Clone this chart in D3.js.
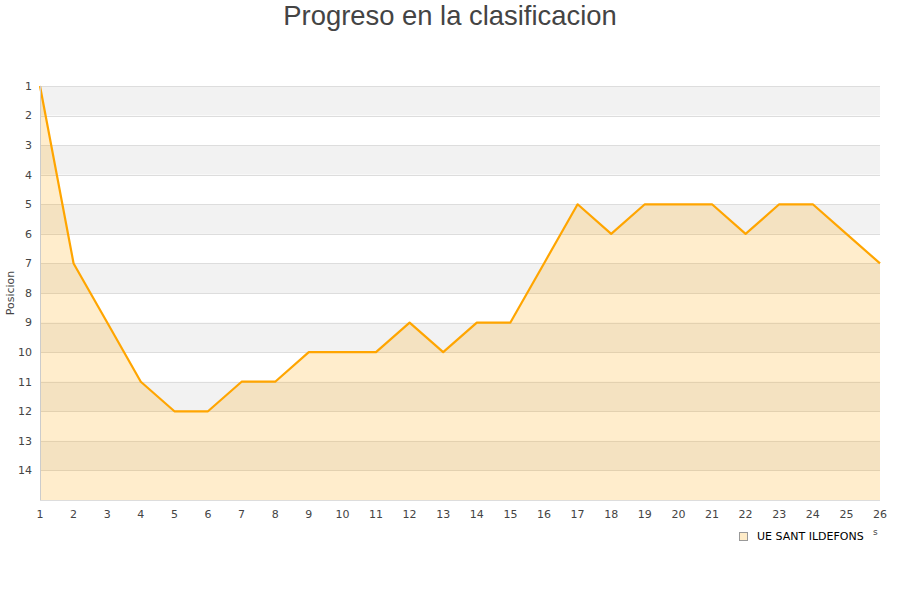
<!DOCTYPE html>
<html><head><meta charset="utf-8">
<script src="https://cdn.jsdelivr.net/npm/d3@7"></script>
<style>body{margin:0;background:#fff}svg{display:block}</style>
</head><body>
<svg id="c" width="900" height="600"></svg>
<script>
const rounds = d3.range(1, 27);
const positions = [1,7,9,11,12,12,11,11,10,10,10,9,10,9,9,7,5,6,5,5,5,6,5,5,6,7];
const yTicks = d3.range(1, 15);
const seriesName = "UE SANT ILDEFONS";
const title = "Progreso en la clasificacion";
const yTitle = "Posicion";

const svg = d3.select("#c");
const m = {l:40, r:880, t:86, b:500};
const x = d3.scaleLinear().domain([1,26]).range([m.l, m.r]);
const y = d3.scaleLinear().domain([1,15]).range([m.t, m.b]);
const font = "DejaVu Sans, sans-serif";

// bands
svg.append("g").selectAll("rect").data(d3.range(1,15)).join("rect")
  .attr("x", m.l).attr("width", m.r - m.l)
  .attr("y", d => y(d)).attr("height", d => y(d+1) - y(d))
  .attr("fill", d => d % 2 === 1 ? "#f2f2f2" : "#ffffff");
// grid
svg.append("g").selectAll("line").data(yTicks).join("line")
  .attr("x1", m.l).attr("x2", m.r)
  .attr("y1", d => Math.round(y(d))+0.5).attr("y2", d => Math.round(y(d))+0.5)
  .attr("stroke", "#dddddd");

// area
const area = d3.area().x((d,i)=>x(rounds[i])).y0(m.b).y1(d=>y(d));
svg.append("path").datum(positions).attr("d", area)
  .attr("fill", "orange").attr("fill-opacity", 0.2);
const line = d3.line().x((d,i)=>x(rounds[i])).y(d=>y(d));
svg.append("path").datum(positions).attr("d", line)
  .attr("fill", "none").attr("stroke", "#ffa500").attr("stroke-width", 2.2)
  .attr("stroke-linejoin","round");

// axis lines
svg.append("line").attr("x1", m.l+0.5).attr("x2", m.l+0.5).attr("y1", m.t).attr("y2", m.b)
  .attr("stroke", "#cccccc");
svg.append("line").attr("x1", m.l).attr("x2", m.r).attr("y1", m.b+0.5).attr("y2", m.b+0.5)
  .attr("stroke", "#dddddd");

// y tick labels
svg.append("g").selectAll("text").data(yTicks).join("text")
  .attr("x", 32).attr("y", d => y(d)).attr("dy", "0.35em")
  .attr("text-anchor", "end").attr("font-family", font).attr("font-size", 11)
  .attr("fill", "#444").text(d => d);
// x tick labels
svg.append("g").selectAll("text").data(rounds).join("text")
  .attr("x", d => x(d)).attr("y", 518)
  .attr("text-anchor", "middle").attr("font-family", font).attr("font-size", 11)
  .attr("fill", "#444").text(d => d);

// title
svg.append("text").attr("x", 450).attr("y", 25).attr("text-anchor", "middle")
  .attr("font-family", "Liberation Sans, Arial, sans-serif").attr("font-size", 27.4)
  .attr("fill", "#444").text(title);
// y title
svg.append("text").attr("transform", "translate(14,293) rotate(-90)")
  .attr("text-anchor", "middle").attr("font-family", font).attr("font-size", 11)
  .attr("fill", "#444").text(yTitle);

// legend
svg.append("rect").attr("x", 739.5).attr("y", 532.5).attr("width", 8).attr("height", 8)
  .attr("fill", "#ffecc8").attr("stroke", "#999");
svg.append("text").attr("x", 757).attr("y", 540).attr("font-family", font)
  .attr("font-size", 11).attr("fill", "#000").text(seriesName);
svg.append("text").attr("x", 873).attr("y", 535).attr("font-family", font)
  .attr("font-size", 9).attr("fill", "#444").text("s");
</script>
</body></html>
